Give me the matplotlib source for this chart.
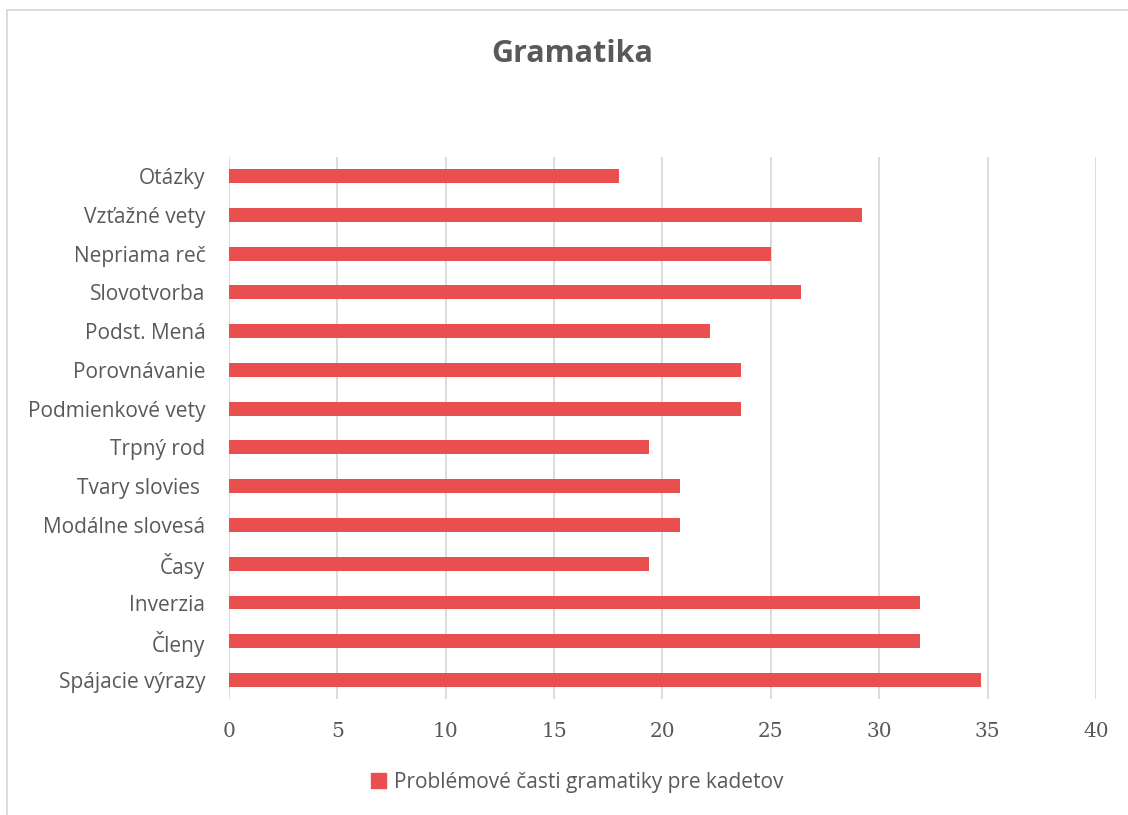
import matplotlib

matplotlib.use("Agg")
import matplotlib.pyplot as plt
from matplotlib.patches import Rectangle

# categories listed bottom -> top, as drawn
categories = [
    "Spájacie výrazy", "Členy", "Inverzia", "Časy", "Modálne slovesá",
    "Tvary slovies ", "Trpný rod", "Podmienkové vety", "Porovnávanie",
    "Podst. Mená", "Slovotvorba", "Nepriama reč", "Vzťažné vety", "Otázky",
]
values = [34.7, 31.9, 31.9, 19.4, 20.8, 20.8, 19.4, 23.6, 23.6, 22.2, 26.4, 25.0, 29.2, 18.0]
xticks = [0, 5, 10, 15, 20, 25, 30, 35, 40]
series_name = "Problémové časti gramatiky pre kadetov"

BAR = "#E94F4F"
TXT = "#595959"
GRID = "#D9D9D9"

plt.rcParams["font.family"] = ["Open Sans", "DejaVu Sans"]

fig = plt.figure(figsize=(11.28, 8.15), dpi=100)
ax = fig.add_axes([0.203, 0.1418, 0.7686, 0.666])

ax.barh(range(len(categories)), values, height=0.36, color=BAR, zorder=3)
ax.set_ylim(-0.5, len(categories) - 0.5)
ax.set_xlim(0, 40)
ax.set_yticks(range(len(categories)))
ax.set_yticklabels(categories, fontsize=15, color=TXT)
ax.set_xticks(xticks)
ax.set_xticklabels([str(t) for t in xticks], fontsize=14.5, color=TXT,
                   family=["DejaVu Serif"])
ax.tick_params(axis="y", length=0, pad=17)
ax.tick_params(axis="x", length=0, pad=16)
for s in ax.spines.values():
    s.set_visible(False)
ax.grid(axis="x", color=GRID, linewidth=1.3, zorder=0)
ax.set_axisbelow(True)

fig.text(0.507, 0.934, "Gramatika", ha="center", va="center", fontsize=22,
         fontweight="bold", color=TXT)

leg = fig.legend(handles=[Rectangle((0, 0), 1, 1, color=BAR)], labels=[series_name],
                 loc="center", bbox_to_anchor=(0.512, 0.04), frameon=False,
                 fontsize=15, handlelength=0.7, handleheight=0.7, handletextpad=0.4)
for t in leg.get_texts():
    t.set_color(TXT)

# outer chart border (top and left edges visible)
fig.add_artist(Rectangle((0.0065, -0.05), 1.2, 1.038, transform=fig.transFigure,
                         fill=False, edgecolor="#D9D9D9", linewidth=1.3))

fig.savefig("out.png", dpi=100)
